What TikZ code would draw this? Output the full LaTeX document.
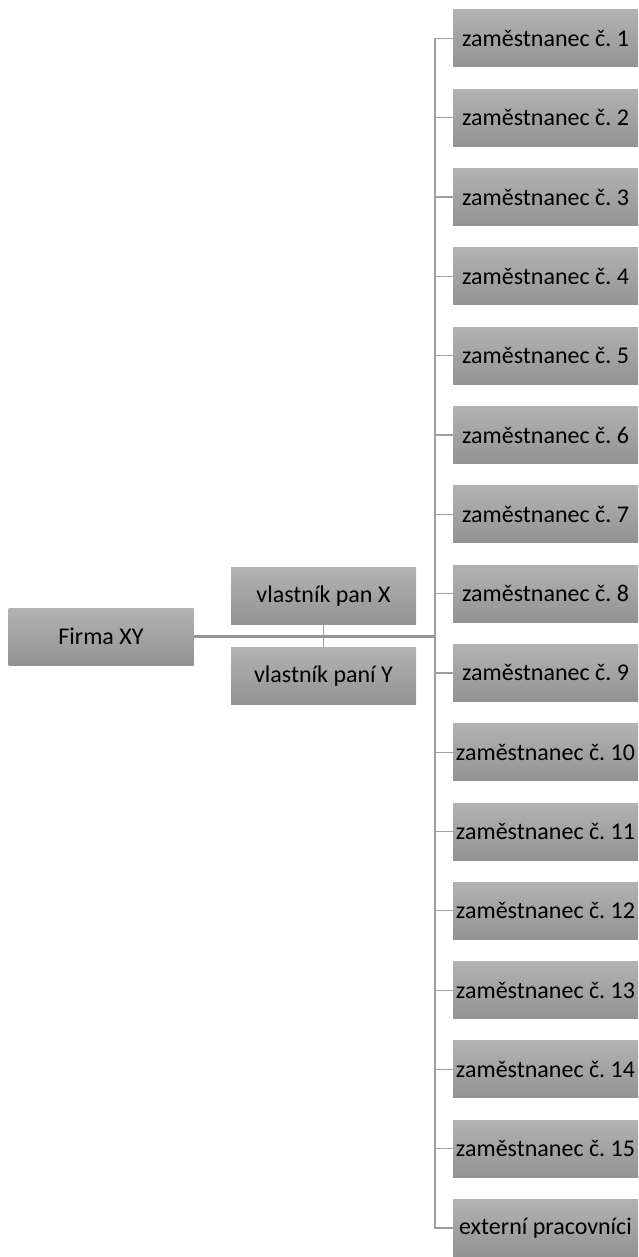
\documentclass[tikz,border=0pt]{standalone}
\usepackage{fontspec}
\setmainfont{Carlito}
\usepackage{tikz}

\begin{document}
\begin{tikzpicture}[x=0.5pt,y=-0.5pt,
            box/.style={top color=gray!60, bottom color=gray!85,
                minimum width=92.5pt, minimum height=28.5pt, inner sep=0pt,
                font=\fontsize{12}{14}\selectfont},
            link/.style={draw=gray!75, line width=0.6pt}]
            \useasboundingbox (0,0) rectangle (638,1257);

            \node[box] (firma) at (101,636.5) {Firma XY};
            \node[box] (ownx) at (323.5,596) {vlastník pan X};
            \node[box] (owny) at (323.5,676) {vlastník paní Y};
            \coordinate (hub) at (435,636.5);

            \foreach \i in {1,...,15}
                \node[box] (e\i) at (545.5,{38.5+(\i-1)*79.3}) {zaměstnanec č.~\i};
            \node[box] (e16) at (545.5,{38.5+15*79.3}) {externí pracovníci};

            %\draw links
            \foreach \i in {1,...,16}
                \draw[link] (hub) |- (e\i.west);
            \draw[link] (ownx.south) -- (owny.north);
            \draw[draw=gray!85, line width=1.3pt] (firma.east) -- (hub);

        \end{tikzpicture}
\end{document}
